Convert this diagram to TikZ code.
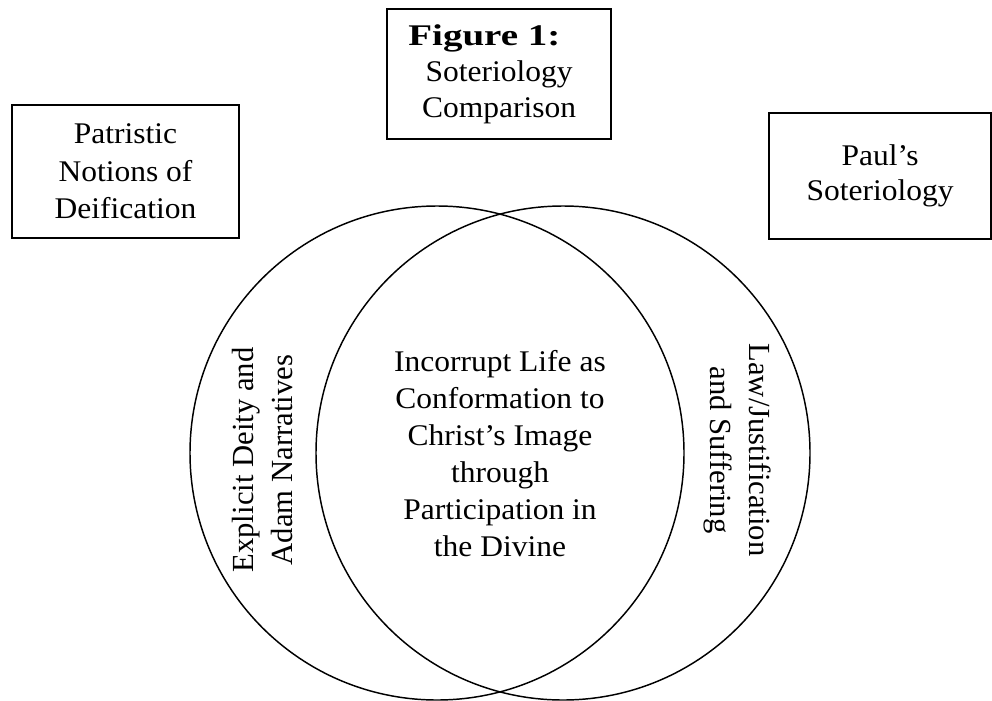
\documentclass[tikz,border=0pt]{standalone}
\usepackage{fontspec}
\setmainfont{Liberation Serif}
\newfontfamily\gentium[FakeStretch=1.05]{Liberation Serif}
\newfontfamily\titlebold[FakeStretch=1.3]{Liberation Serif}
\begin{document}
\begin{tikzpicture}[x=0.75pt,y=-0.75pt,
  box/.style={draw, line width=1.4pt, rectangle, inner sep=0pt, align=center,
    font=\gentium\fontsize{22.5}{28}\selectfont},
  ring/.style={draw, line width=1.1pt, circle, inner sep=0pt, minimum size=370.5pt},
  sidetext/.style={align=center, inner sep=0pt, font=\fontsize{23}{29.25}\selectfont},
  midtext/.style={align=center, inner sep=0pt, font=\gentium\fontsize{22.5}{27.75}\selectfont}]
\useasboundingbox (0,0) rectangle (992,700);
% boxes
\node[box, minimum width=168pt, minimum height=97.5pt,
  font=\gentium\fontsize{22.5}{27}\selectfont] (title) at (499,74)
  {{\titlebold\bfseries Figure 1:}\hspace*{22pt}\\Soteriology\\Comparison};
\node[box, minimum width=170.25pt, minimum height=99.75pt] (patristic) at (125.5,171.5)
  {Patristic\\Notions of\\Deification};
\node[box, minimum width=166.5pt, minimum height=94.5pt, font=\gentium\fontsize{22.5}{26.5}\selectfont] (paul) at (880,176)
  {Paul’s\\Soteriology};
% circles
\node[ring] (leftring) at (437,453) {};
\node[ring] (rightring) at (563,453) {};
% texts
\node[sidetext, rotate=90] (explicit) at (263,460) {Explicit Deity and\\Adam Narratives};
\node[sidetext, rotate=-90] (law) at (737,450) {Law/Justification\\and Suffering};
\node[midtext] (incorrupt) at (500,454) {Incorrupt Life as\\Conformation to\\Christ’s Image\\through\\Participation in\\the Divine};
\end{tikzpicture}
\end{document}
